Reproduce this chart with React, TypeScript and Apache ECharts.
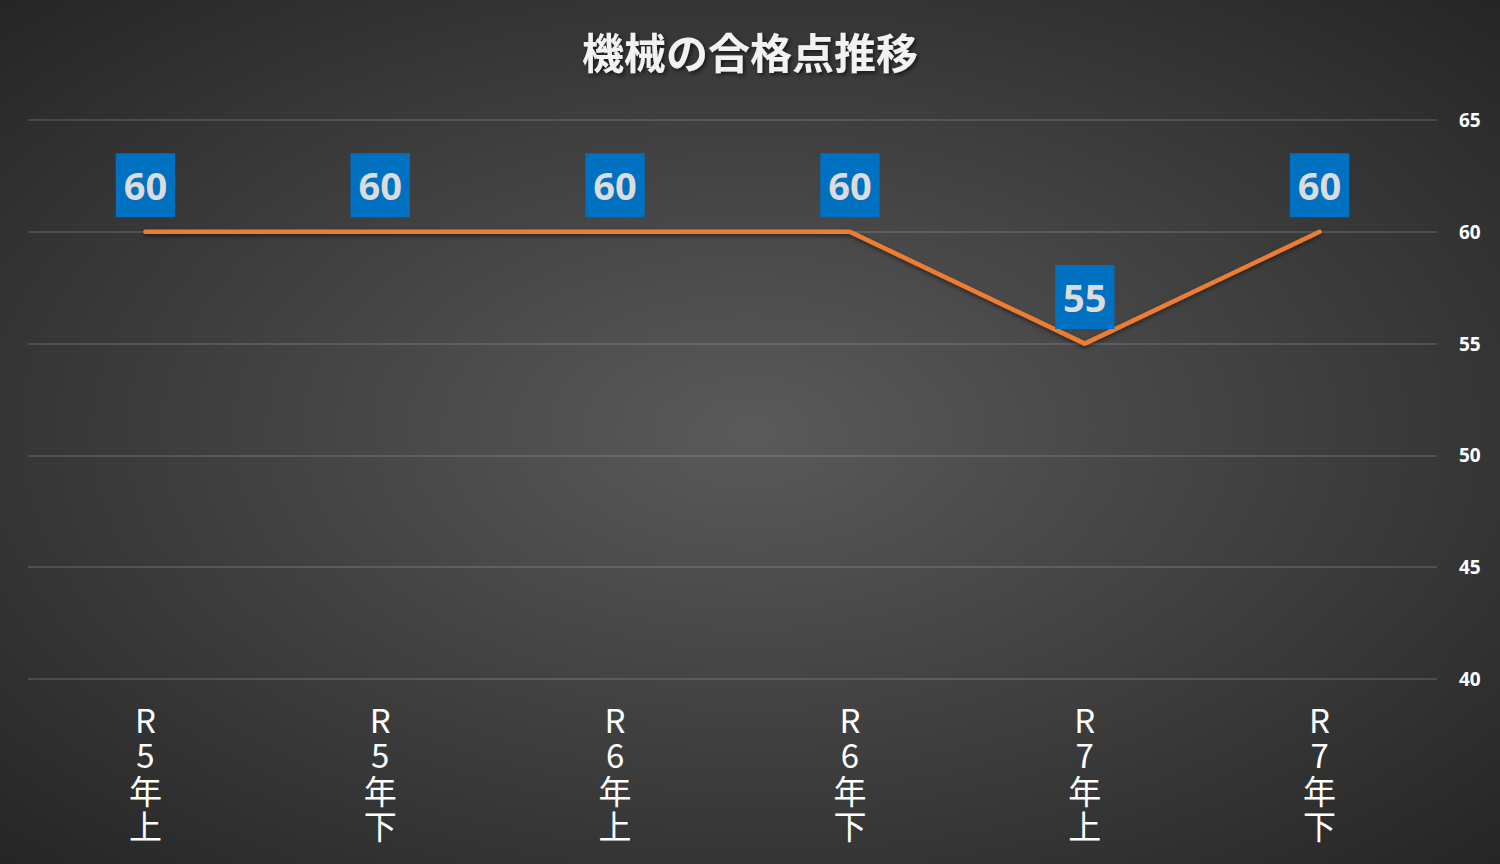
import { useEffect, useRef } from 'react';
import * as echarts from 'echarts';

const categories = ['R\n5\n年\n上', 'R\n5\n年\n下', 'R\n6\n年\n上', 'R\n6\n年\n下', 'R\n7\n年\n上', 'R\n7\n年\n下'];
const passScores = [60, 60, 60, 60, 55, 60];
const yMin = 40;
const yMax = 65;
const yStep = 5;

const FONT = '"Noto Sans CJK JP", "Noto Sans", sans-serif';

export default function App() {
  const chartRef = useRef<HTMLDivElement>(null);

  useEffect(() => {
    if (!chartRef.current) return;
    const chart = echarts.init(chartRef.current, undefined, { renderer: 'svg' });

    const option: echarts.EChartsOption = {
      animation: false,
      backgroundColor: {
        type: 'radial',
        x: 0.5,
        y: 0.5,
        r: 0.75,
        colorStops: [
          { offset: 0, color: '#5a5a5a' },
          { offset: 1, color: '#222222' }
        ]
      },
      title: {
        text: '機械の合格点推移',
        left: 'center',
        top: 24,
        textStyle: {
          fontFamily: FONT,
          fontSize: 42,
          fontWeight: 'bold',
          color: '#f2f2f2',
          textShadowColor: 'rgba(0,0,0,0.6)',
          textShadowBlur: 4,
          textShadowOffsetX: 2,
          textShadowOffsetY: 2
        }
      },
      grid: {
        left: 28,
        right: 63,
        top: 120,
        bottom: 185
      },
      xAxis: {
        type: 'category',
        data: categories,
        boundaryGap: true,
        axisLine: { show: false },
        axisTick: { show: false },
        axisLabel: {
          color: '#ffffff',
          fontFamily: FONT,
          fontSize: 33,
          lineHeight: 35.5,
          margin: 22,
          interval: 0
        }
      },
      yAxis: {
        type: 'value',
        position: 'right',
        min: yMin,
        max: yMax,
        interval: yStep,
        axisLine: { show: false },
        axisTick: { show: false },
        axisLabel: {
          color: '#ffffff',
          fontFamily: '"Open Sans", sans-serif',
          fontWeight: 'bold',
          fontSize: 19,
          margin: 22
        },
        splitLine: { lineStyle: { color: 'rgba(255,255,255,0.18)', width: 1.5 } }
      },
      series: [
        {
          type: 'line',
          data: passScores,
          showSymbol: true,
          symbol: 'circle',
          symbolSize: 1,
          itemStyle: { color: 'rgba(0,0,0,0)' },
          lineStyle: {
            color: '#ED7D31',
            width: 4.5,
            cap: 'round',
            join: 'round',
            shadowColor: 'rgba(0,0,0,0.5)',
            shadowBlur: 4,
            shadowOffsetY: 2
          },
          label: {
            show: true,
            position: 'top',
            distance: 14,
            backgroundColor: '#0070C0',
            color: '#dcdcdc',
            fontFamily: '"Open Sans", sans-serif',
            fontWeight: 'bold',
            fontSize: 38,
            lineHeight: 44,
            padding: [10, 8, 10, 8]
          }
        }
      ]
    };

    chart.setOption(option);
    return () => chart.dispose();
  }, []);

  return (
    <div style={{ position: 'absolute', left: 0, top: 0, width: 1500, height: 864 }}>
      <div ref={chartRef} style={{ width: 1500, height: 864 }} />
    </div>
  );
}
